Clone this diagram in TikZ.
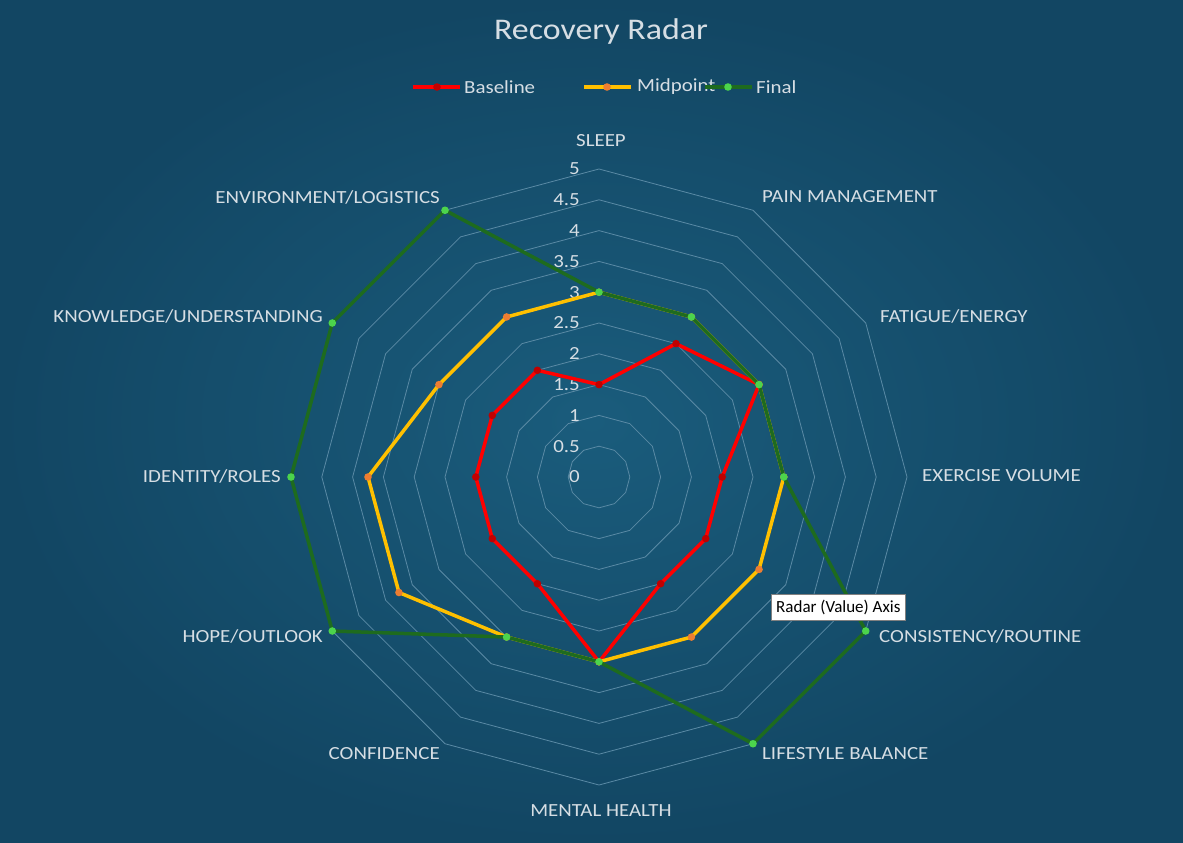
\documentclass[tikz,border=0pt]{standalone}
\usepackage{fontspec}
\usetikzlibrary{calc}
\setmainfont{Carlito}[FakeStretch=1.13]
\newfontfamily\tipfont{Carlito}
\definecolor{bgin}{HTML}{1A5C7C}
\definecolor{bgout}{HTML}{124663}
\definecolor{gridc}{HTML}{5A8AA5}
\definecolor{txt}{HTML}{D6DEE4}
\definecolor{cbase}{HTML}{FF0000}
\definecolor{mbase}{HTML}{C00000}
\definecolor{cmid}{HTML}{FFC000}
\definecolor{mmid}{HTML}{ED7D31}
\definecolor{cfin}{HTML}{1E6B1E}
\definecolor{mfin}{HTML}{4CD44C}
\tikzset{
  cat/.style={text=txt,font=\fontsize{18.5}{20}\selectfont,inner sep=0pt},
  tick/.style={text=txt,font=\fontsize{18.5}{20}\selectfont,inner sep=0pt,anchor=east},
  ser/.style={line width=3.5pt,line join=round},
}
\begin{document}
\begin{tikzpicture}[x=1pt,y=-1pt]
\useasboundingbox (0,0) rectangle (1183,843);
\shade[inner color=bgin,outer color=bgout] (0,0) rectangle (1183,843);
\coordinate (O) at (599,477);
\def\R{61.6}
% grid rings
\foreach \k in {1,...,10}{
  \draw[gridc,line width=0.8pt] ($(O)+(-90:\k*0.5*\R)$)
    \foreach \i in {1,...,11}{ -- ($(O)+(-90+\i*30:\k*0.5*\R)$)} -- cycle;
}
% ticks
\foreach \v/\t in {0/0,0.5/0.5,1/1,1.5/1.5,2/2,2.5/2.5,3/3,3.5/3.5,4/4,4.5/4.5,5/5}
  \node[tick] at (580,{477-\v*\R}) {\t};
% categories
\node[cat] (c0) at (601,141) {SLEEP};
\node[cat,anchor=west] (c1) at (762,197) {PAIN MANAGEMENT};
\node[cat,anchor=west] (c2) at (880,316) {FATIGUE/ENERGY};
\node[cat,anchor=west] (c3) at (922,476) {EXERCISE VOLUME};
\node[cat,anchor=west] (c4) at (879,636) {CONSISTENCY/ROUTINE};
\node[cat,anchor=west] (c5) at (762,754) {LIFESTYLE BALANCE};
\node[cat] (c6) at (601,811) {MENTAL HEALTH};
\node[cat,anchor=east] (c7) at (440,754) {CONFIDENCE};
\node[cat,anchor=east] (c8) at (323,636) {HOPE/OUTLOOK};
\node[cat,anchor=east] (c9) at (281,476) {IDENTITY/ROLES};
\node[cat,anchor=east] (c10) at (323,316) {KNOWLEDGE/UNDERSTANDING};
\node[cat,anchor=east] (c11) at (440,197) {ENVIRONMENT/LOGISTICS};
% series: first value, remaining 11 values
\newcommand{\myseries}[4]{%
  \draw[ser,#3] ($(O)+(-90:#1*\R)$) \foreach \v [count=\i] in {#2}{ -- ($(O)+(-90+\i*30:\v*\R)$)} -- cycle;
  \fill[#4] ($(O)+(-90:#1*\R)$) circle (3.8pt);
  \foreach \v [count=\i] in {#2}{\fill[#4] ($(O)+(-90+\i*30:\v*\R)$) circle (3.8pt);}
}
\myseries{1.5}{2.5,3,2,2,2,3,2,2,2,2,2}{cbase}{mbase}
\myseries{3}{3,3,3,3,3,3,3,3.75,3.75,3,3}{cmid}{mmid}
\myseries{3}{3,3,3,5,5,3,3,5,5,5,5}{cfin}{mfin}
% title & legend
\node[text=txt,font=\fontsize{30}{32}\selectfont] (title) at (601,32) {Recovery Radar};
\draw[cbase,line width=3.5pt] (413,87) -- (460,87); \fill[mbase] (437,87) circle (3.8pt);
\node[cat,anchor=west] (l1) at (464,87) {Baseline};
\draw[cmid,line width=3.5pt] (584,87) -- (631,87); \fill[mmid] (607,87) circle (3.8pt);
\node[cat,anchor=west] (l2) at (637,87) {Midpoint};
\draw[cfin,line width=3.5pt] (705,87) -- (752,87); \fill[mfin] (728,87) circle (3.8pt);
\node[cat,anchor=west] (l3) at (756,87) {Final};
% tooltip
\node[draw=gray,fill=white,text=black,font=\tipfont\fontsize{17}{18}\selectfont,anchor=north west,inner sep=5pt,minimum height=26pt] (tip) at (771,594) {Radar (Value) Axis};
\end{tikzpicture}
\end{document}
